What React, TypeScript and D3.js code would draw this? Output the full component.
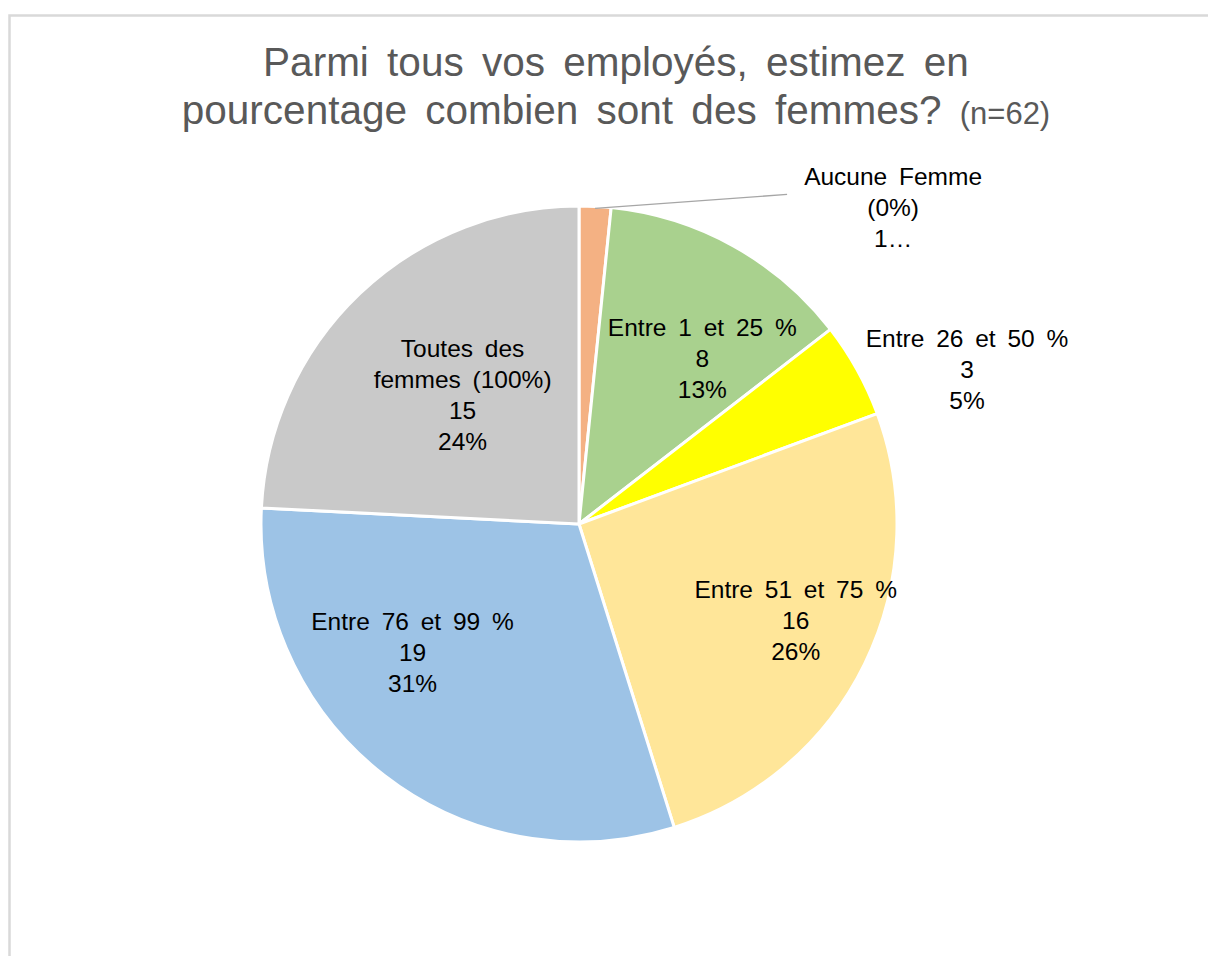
import { useEffect, useRef } from 'react';
import * as d3 from 'd3';

// values
const categories = [
  'Aucune Femme (0%)',
  'Entre 1 et 25 %',
  'Entre 26 et 50 %',
  'Entre 51 et 75 %',
  'Entre 76 et 99 %',
  'Toutes des femmes (100%)',
];
const counts = [1, 8, 3, 16, 19, 15];
const percents = ['2%', '13%', '5%', '26%', '31%', '24%'];
const colors = ['#F4B183', '#A9D18E', '#FFFF00', '#FFE699', '#9DC3E6', '#C9C9C9'];

// how each label is written (Excel wraps/truncates some of them)
const labelLines = [
  ['Aucune Femme', '(0%)', '1…'],
  ['Entre 1 et 25 %', '8', '13%'],
  ['Entre 26 et 50 %', '3', '5%'],
  ['Entre 51 et 75 %', '16', '26%'],
  ['Entre 76 et 99 %', '19', '31%'],
  ['Toutes des', 'femmes (100%)', '15', '24%'],
];
// label placement: radius factor of the centroid + nudge in px
const labelPlace = [
  { k: 1.0, dx: 298, dy: 1, leader: true },
  { k: 0.65, dx: 23, dy: 15 },
  { k: 1.0, dx: 110, dy: 0 },
  { k: 0.745, dx: 4, dy: -8 },
  { k: 0.66, dx: -38, dy: -38 },
  { k: 0.545, dx: 3, dy: -3 },
];

const titleLine1 = 'Parmi tous vos employés, estimez en';
const titleLine2 = 'pourcentage combien sont des femmes?';
const titleN = '(n=62)';

function PieChart() {
  const svgRef = useRef<SVGSVGElement>(null);

  useEffect(() => {
    const W = 1208;
    const H = 956;
    const svg = d3.select(svgRef.current).attr('width', W).attr('height', H);
    svg.selectAll('*').remove();

    const font = '"Liberation Sans", Arial, sans-serif';

    svg.append('rect')
      .attr('x', 9.5).attr('y', 15.5)
      .attr('width', W + 20).attr('height', H + 20)
      .attr('fill', '#fff')
      .attr('stroke', '#d9d9d9')
      .attr('stroke-width', 2.5);

    const title = svg.append('text')
      .attr('text-anchor', 'middle')
      .attr('font-family', font)
      .attr('fill', '#595959')
      .attr('font-size', 40.5)
      .style('word-spacing', '7px');
    title.append('tspan').attr('x', 616).attr('y', 76).text(titleLine1);
    const l2 = title.append('tspan').attr('x', 616).attr('y', 124);
    l2.append('tspan').text(titleLine2 + ' ');
    l2.append('tspan').attr('font-size', 31).style('word-spacing', '0px').text(titleN);

    const cx = 579;
    const cy = 524;
    const r = 318;

    const pie = d3.pie<number>().sort(null).value(d => d);
    const arcs = pie(counts);
    const arc = d3.arc<d3.PieArcDatum<number>>().innerRadius(0).outerRadius(r);

    const g = svg.append('g').attr('transform', `translate(${cx},${cy})`);

    g.selectAll('path.slice')
      .data(arcs)
      .join('path')
      .attr('class', 'slice')
      .attr('d', arc)
      .attr('fill', (_, i) => colors[i])
      .attr('stroke', '#fff')
      .attr('stroke-width', 3)
      .attr('stroke-linejoin', 'round');

    const lineH = 31;
    arcs.forEach((a, i) => {
      const p = labelPlace[i];
      const rr = r * p.k;
      const [x0, y0] = d3.arc<d3.PieArcDatum<number>>().innerRadius(rr).outerRadius(rr).centroid(a);
      const x = x0 + p.dx;
      const y = y0 + p.dy;
      const lines = labelLines[i];
      const t = g.append('text')
        .attr('text-anchor', 'middle')
        .attr('font-family', font)
        .attr('font-size', 24.5)
        .attr('fill', '#000')
        .style('word-spacing', '5px');
      const top = y - ((lines.length - 1) * lineH) / 2;
      lines.forEach((s, j) => {
        t.append('tspan').attr('x', x).attr('y', top + j * lineH).attr('dy', '0.35em').text(s);
      });
      if (p.leader) {
        const mid = (a.startAngle + a.endAngle) / 2;
        const sx = Math.sin(mid) * (r - 2);
        const sy = -Math.cos(mid) * (r - 2);
        g.append('line')
          .attr('x1', sx).attr('y1', sy)
          .attr('x2', x - 106).attr('y2', y - 13)
          .attr('stroke', '#a6a6a6')
          .attr('stroke-width', 1.3);
      }
    });
  }, []);

  return <svg ref={svgRef} style={{ display: 'block' }}></svg>;
}

export default function App() {
  return (
    <div style={{ position: 'absolute', left: 0, top: 0, width: 1208, height: 956, overflow: 'hidden', background: '#fff' }}>
      <PieChart />
    </div>
  );
}
